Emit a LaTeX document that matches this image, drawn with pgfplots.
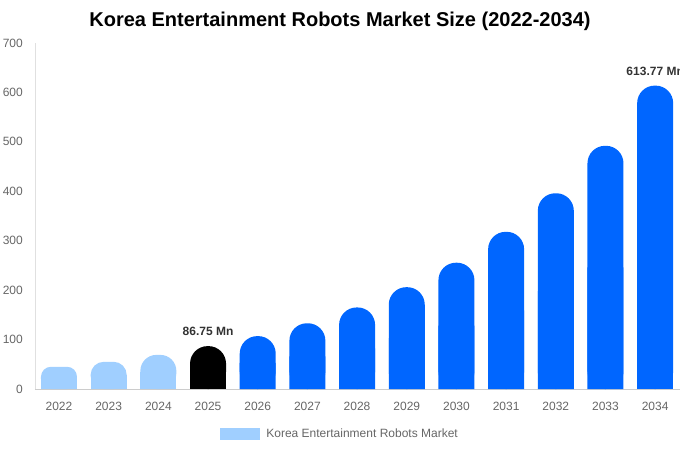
\documentclass[border=0pt]{standalone}
\usepackage{pgfplots}
\pgfplotsset{compat=1.18}
\usepackage{fontspec}
\setmainfont{Liberation Sans}
\definecolor{lightb}{HTML}{A0CFFF}
\definecolor{mainb}{HTML}{0066FF}
\definecolor{tickgray}{HTML}{666666}
\definecolor{labgray}{HTML}{333333}
\begin{document}
\begin{tikzpicture}[x=1pt,y=1pt]
\path[use as bounding box] (0,0) rectangle (680,450);
\node[font=\bfseries\fontsize{20}{24}\selectfont] at (340,429) {Korea Entertainment Robots Market Size (2022-2034)};
\begin{axis}[
  at={(35pt,61pt)}, anchor=south west, scale only axis,
  width=645pt, height=346pt,
  xmin=2021.517, xmax=2034.5, ymin=0, ymax=700,
  axis x line*=bottom, axis y line*=left,
  x axis line style={draw=black!20, -},
  y axis line style={draw=black!12, -},
  xtick={2022,2023,...,2034},
  xticklabels={2022,2023,2024,2025,2026,2027,2028,2029,2030,2031,2032,2033,2034},
  ytick={0,100,...,700},
  major tick length=0pt,
  /pgf/number format/assume math mode=true,
  tick label style={font=\fontsize{12}{14}\selectfont, text=tickgray},
  yticklabel style={anchor=east, inner sep=0pt, xshift=-12pt},
  xticklabel style={anchor=north, inner sep=0pt, yshift=-13pt},
  legend style={at={(axis description cs:0.473,-0.13)}, anchor=center, draw=none, fill=none,
    font=\fontsize{12}{14}\selectfont, text=tickgray, inner sep=0pt,
    /tikz/every odd column/.append style={column sep=4pt}},
  legend image code/.code={\fill[lightb, sharp corners] (0pt,-6pt) rectangle (40pt,6pt);},
  mybar/.style={ybar, bar width=36pt, bar shift=0pt, draw=none},
  nodes near coords style={font=\bfseries\fontsize{12}{14}\selectfont, text=labgray, anchor=south, inner sep=0pt, yshift=10pt},
]
% 2022-2024 (light blue)
\addplot[mybar, fill=lightb] coordinates {(2022,22.5)};
\addlegendentry{Korea Entertainment Robots Market}
\addplot[mybar, fill=lightb, rounded corners=10pt, forget plot] coordinates {(2022,45)};
\addplot[mybar, fill=lightb, rounded corners=13pt, forget plot] coordinates {(2023,55)};
\addplot[mybar, fill=lightb, forget plot] coordinates {(2023,27.5)};
\addplot[mybar, fill=lightb, rounded corners=16pt, forget plot] coordinates {(2024,69)};
\addplot[mybar, fill=lightb, forget plot] coordinates {(2024,34.5)};
% 2025 (black)
\addplot[mybar, fill=black, rounded corners=17.5pt, forget plot, nodes near coords={86.75 Mn}] coordinates {(2025,86.75)};
\addplot[mybar, fill=black, forget plot] coordinates {(2025,43)};
% 2026-2034 (blue)
\addplot[mybar, fill=mainb, rounded corners=17.5pt, forget plot] coordinates {
(2026,107) (2027,133) (2028,165) (2029,206) (2030,255.5) (2031,318) (2032,396) (2033,492)};
\addplot[mybar, fill=mainb, forget plot] coordinates {
(2026,53) (2027,66) (2028,82) (2029,103) (2030,128) (2031,159) (2032,198) (2033,246)};
\addplot[mybar, fill=mainb, rounded corners=17.5pt, forget plot, nodes near coords={613.77 Mn}] coordinates {(2034,613.77)};
\addplot[mybar, fill=mainb, forget plot] coordinates {(2034,307)};
\end{axis}
\end{tikzpicture}
\end{document}
